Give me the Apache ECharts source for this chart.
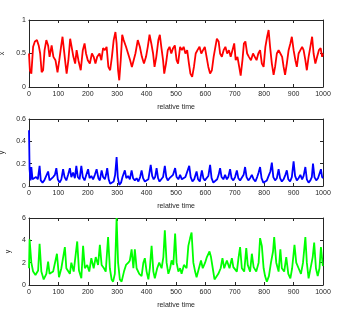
<!DOCTYPE html>
<html>
<head>
<meta charset="utf-8">
<script src="https://cdn.jsdelivr.net/npm/echarts@6/dist/echarts.min.js"></script>
<style>
html,body{margin:0;padding:0;background:#fff;}
#chart{width:339px;height:313px;}
</style>
</head>
<body>
<div id="chart"></div>
<script>
// ---- data ----
const xTicks = [0, 100, 200, 300, 400, 500, 600, 700, 800, 900, 1000];
const xLabel = "relative time";
const seriesNames = ["x", "y", "y"];

const xT = [0,3,8,14,20,27,33,38,43,48,53,59,65,70,77,83,90,97,103,109,114,119,124,128,134,140,145,151,157,162,168,176,183,189,194,200,207,214,220,226,232,240,246,252,258,264,270,276,282,288,294,298,303,307,312,317,322,330,337,344,350,356,362,370,377,384,391,398,404,410,416,422,427,433,440,445,450,456,460,466,472,478,484,490,496,502,507,514,520,526,532,538,544,549,555,561,567,573,580,586,592,598,604,610,616,622,628,634,639,645,650,656,662,668,674,680,686,692,698,703,709,715,720,726,731,736,742,748,755,762,768,774,780,786,792,798,804,810,815,820,826,832,837,843,849,855,861,866,871,877,883,889,894,900,906,911,917,923,929,934,940,945,951,957,963,968,974,980,986,992,997,1000];
const xV = [0.5,0.25,0.2,0.6,0.68,0.7,0.62,0.5,0.22,0.25,0.55,0.7,0.62,0.45,0.62,0.45,0.4,0.22,0.4,0.6,0.75,0.55,0.35,0.2,0.4,0.72,0.6,0.45,0.35,0.55,0.4,0.25,0.55,0.65,0.5,0.4,0.35,0.5,0.45,0.35,0.45,0.5,0.4,0.58,0.55,0.6,0.3,0.25,0.45,0.7,0.82,0.65,0.25,0.1,0.4,0.78,0.7,0.6,0.5,0.4,0.3,0.4,0.5,0.7,0.6,0.45,0.35,0.45,0.6,0.78,0.65,0.5,0.3,0.45,0.7,0.78,0.6,0.4,0.2,0.35,0.55,0.6,0.5,0.58,0.62,0.4,0.35,0.6,0.55,0.6,0.5,0.55,0.35,0.2,0.15,0.3,0.5,0.55,0.6,0.5,0.55,0.6,0.45,0.3,0.2,0.25,0.45,0.6,0.72,0.68,0.5,0.45,0.55,0.6,0.5,0.55,0.45,0.55,0.65,0.4,0.45,0.3,0.17,0.4,0.65,0.68,0.5,0.45,0.4,0.5,0.45,0.4,0.5,0.55,0.35,0.3,0.6,0.75,0.85,0.6,0.35,0.18,0.3,0.5,0.55,0.5,0.45,0.3,0.18,0.35,0.55,0.65,0.75,0.55,0.4,0.3,0.5,0.55,0.6,0.55,0.4,0.25,0.45,0.6,0.75,0.5,0.35,0.45,0.55,0.58,0.45,0.5];

const yT = [0,2,5,8,12,18,24,30,36,40,46,52,58,65,70,76,82,88,93,98,104,110,116,121,127,133,139,144,150,156,161,166,172,178,183,189,195,201,206,212,218,224,230,236,241,247,252,258,262,266,271,276,282,288,293,298,302,307,313,318,326,331,337,343,349,354,360,366,372,378,383,388,394,400,406,414,419,424,429,434,439,444,450,456,462,467,472,478,484,490,497,502,508,514,520,526,532,538,545,550,556,562,570,575,581,588,593,598,604,610,616,621,627,633,640,645,650,655,661,667,673,678,684,689,695,701,707,712,718,724,730,735,740,746,752,758,764,770,776,781,786,791,797,803,809,815,821,826,831,837,843,849,854,860,866,872,877,882,888,894,900,905,911,917,923,929,934,940,945,951,957,962,966,971,977,983,988,993,997,1000];
const yV = [0.5,0.15,0.05,0.17,0.06,0.05,0.08,0.06,0.18,0.05,0.03,0.05,0.06,0.13,0.05,0.04,0.08,0.1,0.16,0.06,0.03,0.06,0.15,0.08,0.05,0.1,0.16,0.08,0.12,0.07,0.18,0.08,0.06,0.18,0.08,0.05,0.1,0.15,0.07,0.09,0.06,0.1,0.15,0.07,0.05,0.14,0.08,0.06,0.1,0.16,0.06,0.02,0.01,0.04,0.1,0.26,0.08,0.01,0.03,0.08,0.14,0.07,0.09,0.06,0.14,0.07,0.05,0.07,0.04,0.08,0.14,0.07,0.04,0.03,0.06,0.19,0.09,0.06,0.08,0.16,0.07,0.04,0.06,0.08,0.18,0.08,0.05,0.07,0.06,0.1,0.16,0.08,0.06,0.1,0.06,0.05,0.08,0.07,0.18,0.08,0.04,0.06,0.13,0.06,0.04,0.14,0.07,0.05,0.06,0.09,0.19,0.07,0.03,0.02,0.06,0.1,0.16,0.08,0.06,0.1,0.06,0.08,0.15,0.07,0.05,0.08,0.14,0.07,0.05,0.06,0.1,0.17,0.08,0.05,0.07,0.1,0.06,0.04,0.08,0.12,0.17,0.07,0.03,0.02,0.05,0.09,0.13,0.21,0.08,0.05,0.07,0.15,0.07,0.04,0.06,0.1,0.14,0.06,0.04,0.08,0.22,0.09,0.05,0.07,0.1,0.06,0.09,0.17,0.06,0.03,0.05,0.08,0.2,0.08,0.05,0.07,0.06,0.15,0.08,0.07];

const zT = [0,2,8,14,22,31,36,42,50,59,65,70,82,95,102,110,122,127,139,144,152,164,170,178,184,190,198,205,212,220,227,235,241,247,255,261,269,275,281,286,292,298,303,309,315,323,330,338,343,349,355,360,366,375,383,389,394,400,406,411,417,423,428,436,443,451,457,462,468,474,480,485,491,497,502,508,514,519,527,536,542,548,553,559,565,570,578,585,591,599,605,614,619,625,631,636,644,652,658,664,673,682,690,695,707,713,718,724,732,739,744,752,758,764,773,781,786,792,798,803,809,816,823,830,834,841,849,855,860,868,875,882,889,895,903,909,917,925,932,940,945,951,957,965,970,976,982,988,993,999,1000];
const zV = [1.5,4.1,2.0,1.2,0.9,1.3,3.7,1.2,0.5,1.0,2.1,1.0,1.2,2.8,0.7,1.5,3.4,1.5,1.0,2.0,1.2,3.9,1.3,0.6,3.5,1.5,1.8,1.2,2.4,1.5,2.5,1.8,3.6,1.8,1.5,1.2,4.3,1.5,0.5,0.3,1.0,6.0,2.0,0.5,0.3,1.2,1.8,2.0,2.2,3.2,1.5,3.2,1.5,1.0,0.8,2.0,2.4,1.2,0.5,1.5,3.5,1.2,0.6,1.5,2.0,1.5,2.5,4.9,2.0,1.0,1.5,2.2,1.8,4.6,2.0,1.2,1.5,1.0,1.8,1.5,3.5,4.2,4.7,2.0,1.2,0.7,1.5,2.2,1.5,2.0,2.5,3.0,2.5,1.5,0.5,0.4,1.0,1.5,2.4,1.5,2.2,1.5,2.4,1.6,1.2,2.5,3.4,1.5,1.2,3.3,1.8,1.2,2.8,1.6,1.2,2.0,4.2,3.5,1.5,0.8,0.3,0.8,2.0,3.0,4.3,2.0,1.2,3.2,1.5,1.2,2.5,1.0,0.6,1.5,3.6,2.0,1.5,1.0,2.0,4.3,2.0,0.6,0.5,2.5,3.8,1.5,0.8,1.5,3.4,1.8,1.7];

const yMax = [1, 0.6, 6];
const yInterval = [0.5, 0.2, 2];
const colors = ["#ff0000", "#0000ff", "#00ff00"];

// ---- chart ----
const tops = [20, 119, 218];
const H = 67;
const axisCol = "#262626";
const font = "Liberation Sans";
const grids = [], xAxes = [], yAxes = [], series = [];
const sets = [[xT, xV], [yT, yV], [zT, zV]];
for (let i = 0; i < 3; i++) {
  grids.push({left: 29, right: 16, top: tops[i], height: H, show: false, containLabel: false, outerBoundsMode: 'none'});
  const baseX = {gridIndex: i, type: 'value', min: 0, max: 1000, interval: 100,
    axisLine: {show: true, onZero: false, lineStyle: {color: axisCol, width: 1}},
    axisTick: {show: true, inside: true, length: 3, lineStyle: {color: axisCol}},
    splitLine: {show: false}};
  xAxes.push(Object.assign({}, baseX, {position: 'bottom', name: xLabel, nameLocation: 'middle', nameGap: 17,
    nameTextStyle: {fontFamily: font, fontSize: 7, color: axisCol},
    axisLabel: {show: true, fontFamily: font, fontSize: 7, color: axisCol, margin: 4,
      formatter: v => String(v)}}));
  xAxes.push(Object.assign({}, baseX, {position: 'top', axisLabel: {show: false}}));
  const baseY = {gridIndex: i, type: 'value', min: 0, max: yMax[i], interval: yInterval[i],
    axisLine: {show: true, onZero: false, lineStyle: {color: axisCol, width: 1}},
    axisTick: {show: true, inside: true, length: 3, lineStyle: {color: axisCol}},
    splitLine: {show: false}};
  yAxes.push(Object.assign({}, baseY, {position: 'left', name: seriesNames[i], nameLocation: 'middle', nameGap: 16,
    nameRotate: 90, nameTextStyle: {fontFamily: font, fontSize: 7, color: axisCol},
    axisLabel: {show: true, fontFamily: font, fontSize: 7, color: axisCol, margin: 3,
      formatter: v => String(v)}}));
  yAxes.push(Object.assign({}, baseY, {position: 'right', axisLabel: {show: false}}));
  const t = sets[i][0], v = sets[i][1];
  series.push({type: 'line', xAxisIndex: 2 * i, yAxisIndex: 2 * i, showSymbol: false, symbol: 'none',
    animation: false, data: t.map((tt, k) => [tt, v[k]]),
    lineStyle: {color: colors[i], width: 1.8}});
}
const chart = echarts.init(document.getElementById('chart'), null, {renderer: 'canvas'});
chart.setOption({animation: false, backgroundColor: '#fff', grid: grids, xAxis: xAxes, yAxis: yAxes, series: series});
</script>
</body>
</html>
